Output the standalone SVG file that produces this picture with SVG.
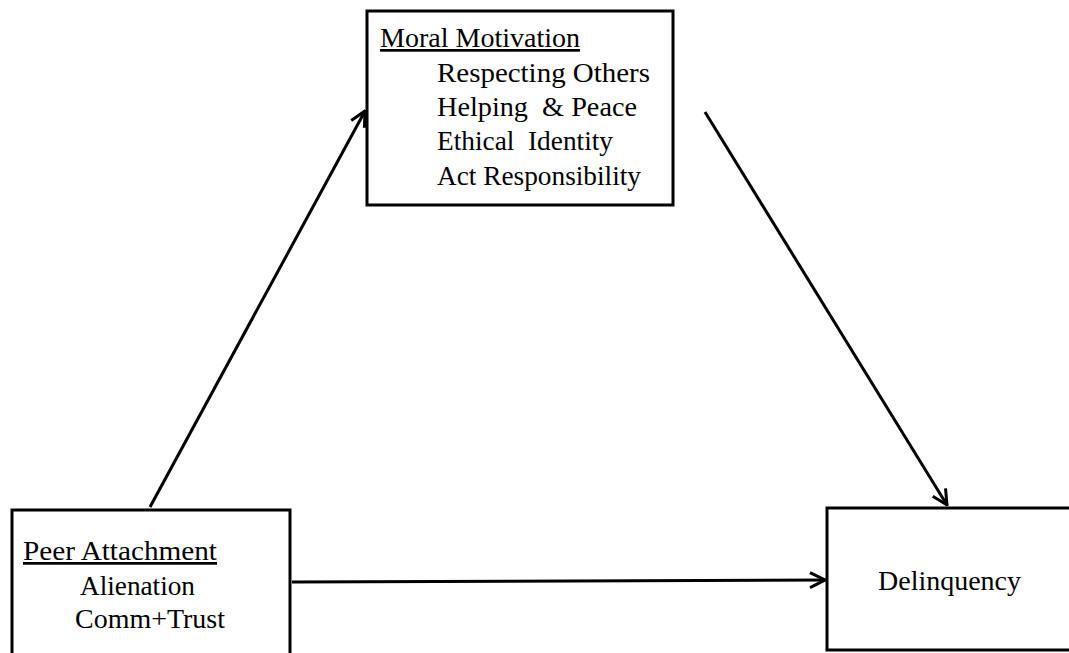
<svg xmlns="http://www.w3.org/2000/svg" width="1069" height="653" viewBox="0 0 1069 653">
  <style>
    .box { fill: #ffffff; stroke: #000000; stroke-width: 3; }
    .lbl { font-family: "Liberation Serif", "Times New Roman", serif; font-size: 27px; fill: #000000; }
    .ul { text-decoration: underline; }
    .edge { stroke: #000000; stroke-width: 3; fill: none; marker-end: url(#arrow); }
  </style>
  <defs>
    <marker id="arrow" viewBox="0 0 12 12" refX="11" refY="6" markerWidth="6" markerHeight="6" orient="auto" markerUnits="strokeWidth">
      <path d="M1,1 L11,6 L1,11" fill="none" stroke="#000000" stroke-width="2"/>
    </marker>
  </defs>

  <rect width="1069" height="653" fill="#ffffff"/>

  <g id="connectors">
    <line class="edge" x1="150" y1="507" x2="365" y2="111"/>
    <line class="edge" x1="705" y1="112" x2="947" y2="505"/>
    <line class="edge" x1="292" y1="582" x2="825" y2="580"/>
  </g>

  <g id="moral-motivation">
    <rect class="box" x="367" y="11" width="306" height="194"/>
    <text class="lbl ul" x="380" y="47" textLength="200" lengthAdjust="spacingAndGlyphs">Moral Motivation</text>
    <text class="lbl" x="437" y="82" textLength="213" lengthAdjust="spacingAndGlyphs">Respecting Others</text>
    <text class="lbl" x="437" y="116" textLength="200" lengthAdjust="spacingAndGlyphs" xml:space="preserve">Helping  &amp; Peace</text>
    <text class="lbl" x="437" y="150" textLength="176" lengthAdjust="spacingAndGlyphs" xml:space="preserve">Ethical  Identity</text>
    <text class="lbl" x="437" y="185" textLength="204" lengthAdjust="spacingAndGlyphs">Act Responsibility</text>
  </g>

  <g id="peer-attachment">
    <rect class="box" x="12" y="510" width="278" height="160"/>
    <text class="lbl ul" x="23" y="560" textLength="194" lengthAdjust="spacingAndGlyphs">Peer Attachment</text>
    <text class="lbl" x="80" y="595" textLength="115" lengthAdjust="spacingAndGlyphs">Alienation</text>
    <text class="lbl" x="75" y="628" textLength="150" lengthAdjust="spacingAndGlyphs">Comm+Trust</text>
  </g>

  <g id="delinquency">
    <rect class="box" x="827" y="508" width="260" height="142"/>
    <text class="lbl" x="878" y="590" textLength="143" lengthAdjust="spacingAndGlyphs">Delinquency</text>
  </g>
</svg>
